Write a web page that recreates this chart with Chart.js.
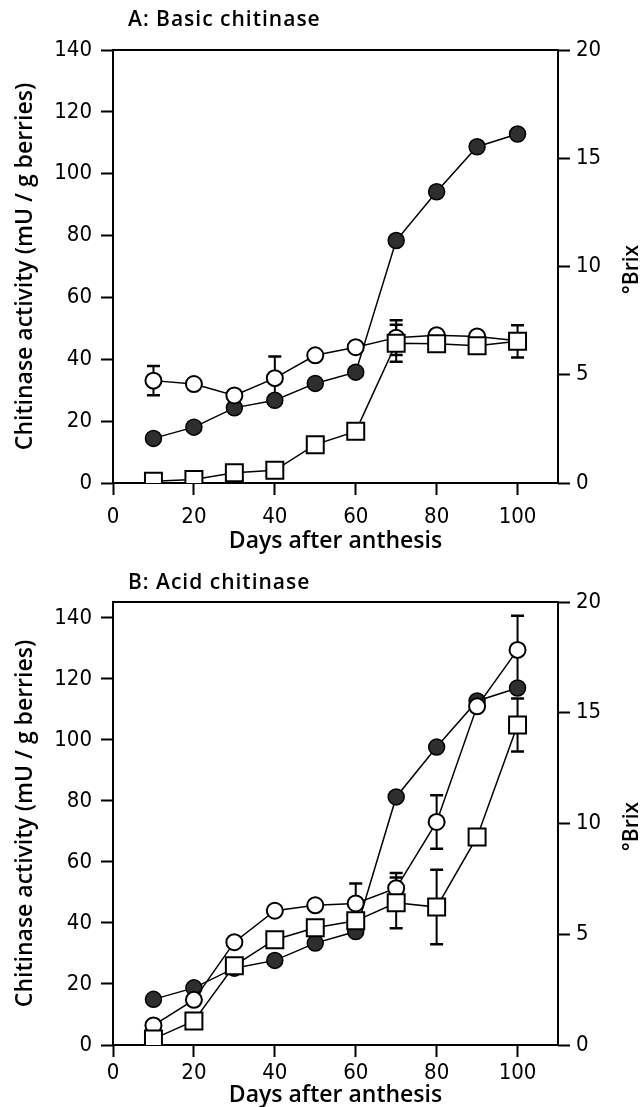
<!DOCTYPE html>
<html>
<head>
<meta charset="utf-8">
<script src="https://cdn.jsdelivr.net/npm/chart.js@4.4.0/dist/chart.umd.min.js"></script>
<style>
body { margin:0; background:#fff; width:642px; height:1107px; position:relative; overflow:hidden; }
canvas { position:absolute; left:0; }
#chartA { top:0; }
#chartB { top:550px; }
</style>
</head>
<body>
<canvas id="chartA" width="642" height="560"></canvas>
<canvas id="chartB" width="642" height="557"></canvas>
<script>
// days after anthesis
const days = [10, 20, 30, 40, 50, 60, 70, 80, 90, 100];

// sugar content (°Brix), same curve in both panels
const brix = [2.06, 2.58, 3.47, 3.82, 4.6, 5.12, 11.2, 13.45, 15.53, 16.12];

// A: basic chitinase
const basicCircle = [33.1, 32.0, 28.3, 33.9, 41.3, 43.9, 47.0, 47.8, 47.4, 46.0];
const basicSquare = [0.6, 1.1, 3.3, 4.1, 12.4, 16.7, 45.2, 45.0, 44.4, 45.8];
const basicCircleErr = [4.7, null, null, 7, null, null, 5.6, null, null, null];
const basicSquareErr = [null, null, null, null, null, null, 6, null, null, 5.2];

// B: acid chitinase
const acidCircle = [6.4, 14.8, 33.7, 44.0, 45.8, 46.4, 51.4, 73.1, 111.0, 129.5];
const acidSquare = [2.0, 7.9, 26.0, 34.5, 38.4, 40.7, 46.6, 45.2, 68.2, 104.9];
const acidCircleErr = [null, null, null, null, null, 6.5, 5, 8.8, null, 11.2];
const acidSquareErr = [null, null, null, null, null, null, 8.3, 12.2, null, 8.7];

const xTicks = [0, 20, 40, 60, 80, 100];
const leftTitle = 'Chitinase activity (mU / g berries)';
const rightTitle = '°Brix';
const xTitle = 'Days after anthesis';

const tickFont = { family: '"Liberation Sans Narrow", "DejaVu Sans Condensed", Arial, sans-serif', size: 22 };
const titleFont = { family: '"Open Sans", "Noto Sans", sans-serif', size: 23, weight: '600', lineHeight: 1 };

function pts(vals) {
  return days.map((d, i) => ({ x: d, y: vals[i] }));
}

const panelTitle = {
  id: 'panelTitle',
  afterDraw(chart, args, opts) {
    const ctx = chart.ctx;
    ctx.save();
    ctx.fillStyle = '#000';
    ctx.font = '600 21px "Open Sans", "Noto Sans", sans-serif';
    ctx.letterSpacing = '1px';
    ctx.textBaseline = 'middle';
    ctx.fillText(opts.text, 128, opts.y);
    ctx.letterSpacing = '0px';
    // right axis title, reading bottom to top
    const a = chart.chartArea;
    ctx.font = '600 21px "Open Sans", "Noto Sans", sans-serif';
    ctx.translate(632, (a.top + a.bottom) / 2 + 3);
    ctx.rotate(-Math.PI / 2);
    ctx.textAlign = 'center';
    ctx.fillText(rightTitle, 0, 0);
    ctx.restore();
  }
};

const frameAndErrors = {
  id: 'frameAndErrors',
  beforeDatasetsDraw(chart) {
    const ctx = chart.ctx;
    const a = chart.chartArea;
    ctx.save();
    ctx.strokeStyle = '#000';
    ctx.lineWidth = 2;
    ctx.strokeRect(a.left, a.top, a.right - a.left, a.bottom - a.top);
    chart.data.datasets.forEach(ds => {
      if (!ds.err) return;
      const ys = chart.scales[ds.yAxisID];
      const xs = chart.scales.x;
      ds.err.forEach((e, i) => {
        if (e == null) return;
        const px = xs.getPixelForValue(ds.data[i].x);
        const hi = ys.getPixelForValue(ds.data[i].y + e);
        const lo = ys.getPixelForValue(ds.data[i].y - e);
        ctx.lineWidth = 2;
        ctx.beginPath();
        ctx.moveTo(px, hi); ctx.lineTo(px, lo);
        ctx.stroke();
        ctx.lineWidth = 2.5;
        ctx.beginPath();
        ctx.moveTo(px - 6.5, hi); ctx.lineTo(px + 6.5, hi);
        ctx.moveTo(px - 6.5, lo); ctx.lineTo(px + 6.5, lo);
        ctx.stroke();
      });
    });
    ctx.restore();
  }
};

function makeChart(id, circle, square, circleErr, squareErr, leftMax, canvasH, title, titleY, xTitlePad, xTickPad) {
  const top = id === 'chartA' ? 50 : 52;
  const bottom = id === 'chartA' ? 483 : 495;
  const grid = { drawOnChartArea: false, tickLength: 12, tickWidth: 2, tickColor: '#000' };
  return new Chart(document.getElementById(id), {
    type: 'line',
    data: {
      datasets: [
        {
          data: pts(square), yAxisID: 'y', err: squareErr, order: 0,
          borderColor: '#000', borderWidth: 1.5, pointStyle: 'rect', pointRadius: 12,
          pointBackgroundColor: '#fff', pointBorderColor: '#000', pointBorderWidth: 2
        },
        {
          data: pts(circle), yAxisID: 'y', err: circleErr, order: 1,
          borderColor: '#000', borderWidth: 1.5, pointStyle: 'circle', pointRadius: 8,
          pointBackgroundColor: '#fff', pointBorderColor: '#000', pointBorderWidth: 2
        },
        {
          data: pts(brix), yAxisID: 'y2', order: 2,
          borderColor: '#000', borderWidth: 1.5, pointStyle: 'circle', pointRadius: 8,
          pointBackgroundColor: '#2e2e2e', pointBorderColor: '#000', pointBorderWidth: 1.5
        }
      ]
    },
    options: {
      responsive: false,
      animation: false,
      layout: { padding: { top: top, left: 0, right: 0, bottom: 0 } },
      plugins: {
        legend: { display: false },
        tooltip: { enabled: false },
        panelTitle: { text: title, y: titleY }
      },
      scales: {
        x: {
          type: 'linear', min: 0, max: 110,
          afterBuildTicks: s => { s.ticks = xTicks.map(v => ({ value: v })); },
          ticks: { font: tickFont, color: '#000', padding: xTickPad, maxRotation: 0 },
          grid: grid,
          border: { display: false },
          title: { display: true, text: xTitle, font: titleFont, color: '#000', padding: { top: 0, bottom: xTitlePad } },
          afterFit: s => { s.height = canvasH - bottom; }
        },
        y: {
          position: 'left', min: 0, max: leftMax,
          ticks: { stepSize: 20, includeBounds: false, font: tickFont, color: '#000', padding: 9 },
          grid: grid,
          border: { display: false },
          title: { display: true, text: leftTitle, font: titleFont, color: '#000', padding: { top: 13.5, bottom: 0 } },
          afterFit: s => { s.width = 113; }
        },
        y2: {
          position: 'right', min: 0, max: 20,
          ticks: { stepSize: 5, font: tickFont, color: '#000', padding: 6 },
          grid: grid,
          border: { display: false },
          afterFit: s => { s.width = 84; }
        }
      }
    },
    plugins: [frameAndErrors, panelTitle]
  });
}

makeChart('chartA', basicCircle, basicSquare, basicCircleErr, basicSquareErr, 140, 560, 'A: Basic chitinase', 20, 7.5, 9);
makeChart('chartB', acidCircle, acidSquare, acidCircleErr, acidSquareErr, 145.2, 557, 'B: Acid chitinase', 33, 0, 3);
</script>
</body>
</html>
